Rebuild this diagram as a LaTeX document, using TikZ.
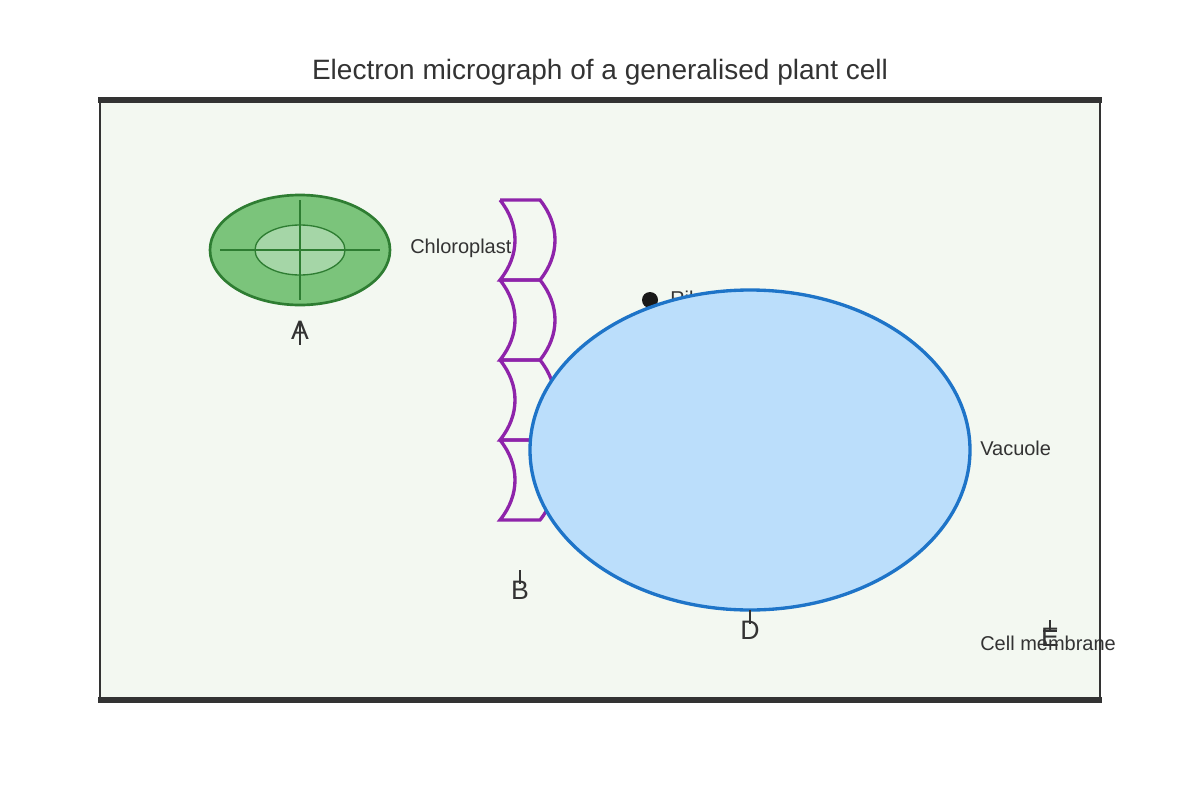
\documentclass[tikz,border=0pt]{standalone}
\usepackage{fontspec}
\setmainfont{Liberation Sans}
\definecolor{cellbg}{HTML}{F3F8F1}
\definecolor{edge}{HTML}{333333}
\definecolor{chlfill}{HTML}{7BC47B}
\definecolor{chlin}{HTML}{A5D6A7}
\definecolor{chledge}{HTML}{2E7D32}
\definecolor{golgi}{HTML}{8E24AA}
\definecolor{vacfill}{HTML}{BBDEFB}
\definecolor{vacedge}{HTML}{1E74C8}
\tikzset{
  lbl/.style={text=edge,inner sep=0pt,font=\fontsize{15}{18}\selectfont},
  letter/.style={text=edge,font=\fontsize{20}{24}\selectfont},
  tick/.style={draw=edge,line width=1.5pt}
}
\begin{document}
\begin{tikzpicture}[x=0.75pt,y=-0.75pt]
\useasboundingbox (0,0) rectangle (1200,800);
% Title
\node[text=edge,font=\fontsize{21}{25}\selectfont] (title) at (600,72) {Electron micrograph of a generalised plant cell};

% Cell
\fill[cellbg] (100,100) rectangle (1100,700);
\draw[edge,line width=2pt] (100,100) -- (100,700) (1100,100) -- (1100,700);
\draw[edge,line width=4pt] (98,100) -- (1102,100) (98,700) -- (1102,700);

% Chloroplast
\draw[chledge,fill=chlfill,line width=2pt] (300,250) ellipse [x radius=90,y radius=55];
\draw[chledge,fill=chlin,line width=1pt] (300,250) ellipse [x radius=45,y radius=25];
\draw[chledge,line width=1pt] (220,250) -- (380,250);
\draw[chledge,line width=1pt] (300,200) -- (300,300);
\node[lbl,anchor=west] (chl) at (410,248) {Chloroplast};
\node[letter] (A) at (300,330) {A};
\draw[tick] (300,322) -- (300,345);

% Golgi stack
\foreach \y in {200,280,360,440}{
  \draw[golgi,line width=2.5pt] (500,\y) -- (540,\y)
    .. controls (560,\y+25) and (560,\y+55) .. (540,\y+80) -- (500,\y+80)
    .. controls (520,\y+55) and (520,\y+25) .. (500,\y);
}
\node[letter] (B) at (520,590) {B};
\draw[tick] (520,570) -- (520,584);

% Ribosome
\fill[black!90] (650,300) circle (8);
\node[lbl,anchor=west] (rib) at (670,298) {Ribosome};
\draw[tick] (650,325) -- (650,345);

% Vacuole
\draw[vacedge,fill=vacfill,line width=2.5pt] (750,450) ellipse [x radius=220,y radius=160];
\node[lbl,anchor=west] (vac) at (980,448) {Vacuole};
\node[letter] (D) at (750,630) {D};
\draw[tick] (750,610) -- (750,624);

% Cell membrane
\node[lbl,anchor=west] (mem) at (980,643) {Cell membrane};
\node[letter] (E) at (1050,637) {E};
\draw[tick] (1050,620) -- (1050,632);
\draw[tick] (1043,631) -- (1057,631);
\end{tikzpicture}
\end{document}
